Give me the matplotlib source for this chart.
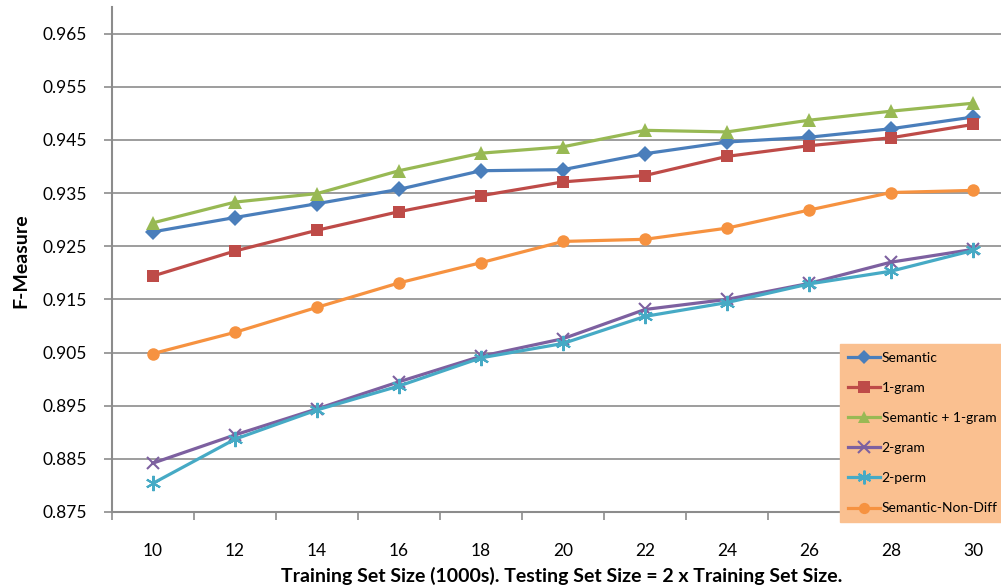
import matplotlib
matplotlib.use("Agg")
import matplotlib.pyplot as plt
from matplotlib.ticker import FixedLocator

plt.rcParams['font.family'] = ['Lato', 'DejaVu Sans']

sizes = [10, 12, 14, 16, 18, 20, 22, 24, 26, 28, 30]
semantic = [0.9277, 0.9304, 0.9330, 0.9357, 0.9392, 0.9394, 0.9424, 0.9446, 0.9455, 0.9471, 0.9493]
one_gram = [0.9194, 0.9241, 0.9280, 0.9315, 0.9345, 0.9371, 0.9383, 0.9419, 0.9439, 0.9454, 0.9479]
sem_plus = [0.9294, 0.9333, 0.9349, 0.9392, 0.9425, 0.9437, 0.9468, 0.9465, 0.9487, 0.9504, 0.9519]
two_gram = [0.8842, 0.8895, 0.8944, 0.8995, 0.9043, 0.9076, 0.9131, 0.9150, 0.9180, 0.9220, 0.9244]
two_perm = [0.8804, 0.8887, 0.8942, 0.8987, 0.9040, 0.9067, 0.9118, 0.9144, 0.9179, 0.9203, 0.9242]
sem_nondiff = [0.9048, 0.9088, 0.9135, 0.9181, 0.9219, 0.9259, 0.9263, 0.9284, 0.9318, 0.9351, 0.9355]
y_ticks = [0.875, 0.885, 0.895, 0.905, 0.915, 0.925, 0.935, 0.945, 0.955, 0.965]

W, H = 1001, 588
fig = plt.figure(figsize=(W / 100, H / 100), dpi=100)
left, right, bottom, top = 112, 1014, 512, 7
ax = fig.add_axes([left / W, (H - bottom) / H, (right - left) / W, (bottom - top) / H])

series = [
    ("Semantic", semantic, "#4A7EBB", "D", 8),
    ("1-gram", one_gram, "#BE4B48", "s", 9),
    ("Semantic + 1-gram", sem_plus, "#98B954", "^", 10),
    ("2-gram", two_gram, "#7D60A0", "x", 9),
    ("2-perm", two_perm, "#46AAC5", (6, 2, 0), 11),
    ("Semantic-Non-Diff", sem_nondiff, "#F69240", "o", 9),
]
for name, vals, col, mk, ms in series:
    if mk == "x" or isinstance(mk, tuple):
        kw = dict(markeredgewidth=1.5, markeredgecolor=col)
    else:
        kw = dict(markeredgewidth=0)
    ax.plot(sizes, vals, color=col, lw=2.3, marker=mk, markersize=ms,
            markerfacecolor=col, label=name, clip_on=False, **kw)

ax.set_xlim(9, 31)
ax.set_ylim(0.875, 0.97)
ax.set_yticks(y_ticks)
ax.set_yticklabels([f"{t:.3f}" for t in y_ticks])
ax.yaxis.grid(True, color="#8C8C8C", lw=1.2)
ax.set_axisbelow(True)

ax.set_xticks(sizes)
ax.set_xticklabels([str(s) for s in sizes])
ax.xaxis.set_minor_locator(FixedLocator([s - 1 for s in sizes] + [31]))
ax.tick_params(axis='x', which='major', length=0, pad=22, labelsize=12.5)
ax.tick_params(axis='x', which='minor', length=6, width=1.2, color="#8C8C8C")
ax.tick_params(axis='y', which='major', length=6, width=1.2, color="#8C8C8C", pad=12, labelsize=12.5)

for s in ['top', 'right']:
    ax.spines[s].set_visible(False)
for s in ['left', 'bottom']:
    ax.spines[s].set_color("#8C8C8C")
    ax.spines[s].set_linewidth(1.5)

ax.set_ylabel("F-Measure", fontsize=14, fontweight='bold')
ax.set_xlabel("Training Set Size (1000s). Testing Set Size = 2 x Training Set Size.",
              fontsize=14, fontweight='bold')
ax.yaxis.set_label_coords(-(112 - 21) / (right - left), (bottom - 261) / (bottom - top))
ax.xaxis.set_label_coords((562 - left) / (right - left), -(576 - bottom) / (bottom - top))
ax.xaxis.label.set_va('center')
ax.yaxis.label.set_va('center')

leg = fig.legend(loc='lower left', bbox_to_anchor=(840 / W, (H - 522) / H, 175 / W, 184 / H),
                 mode='expand', frameon=True, fancybox=False, fontsize=10,
                 handlelength=2.3, handletextpad=0.15, labelspacing=1.3,
                 borderpad=0.55, borderaxespad=0, markerscale=0.9)
leg.get_frame().set_facecolor("#FAC090")
leg.get_frame().set_edgecolor("#FAC090")
leg.get_frame().set_alpha(1)

fig.savefig("out.png", dpi=100)
